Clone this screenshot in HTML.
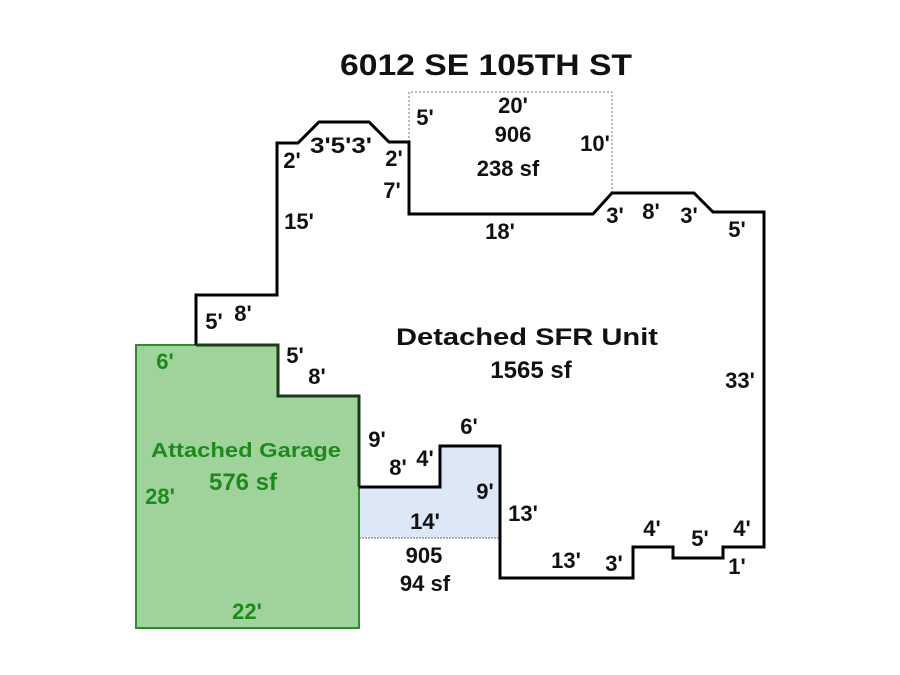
<!DOCTYPE html>
<html><head><meta charset="utf-8"><style>
html,body{margin:0;padding:0;background:#fff;}
svg{display:block}
text{font-family:"Liberation Sans",Arial,sans-serif;font-weight:bold;fill:#111;}
.g{fill:#1e8a1e}
</style></head><body>
<svg width="900" height="675" viewBox="0 0 900 675" xmlns="http://www.w3.org/2000/svg">
<rect width="900" height="675" fill="#fff"/>
<!-- dotted 906 area -->
<polyline points="409,142 409,92 612,92 612,193" fill="none" stroke="#777" stroke-width="1" stroke-dasharray="2,2"/>
<!-- blue 905 -->
<polygon points="359,487 440,487 440,446 500,446 500,538 359,538" fill="#dce8f5"/>
<line x1="359" y1="538" x2="500" y2="538" stroke="#666" stroke-width="1" stroke-dasharray="2,1"/>
<!-- garage -->
<polygon points="136,345 278,345 278,396 359,396 359,628 136,628" fill="#a0d29c" stroke="#2e8b2e" stroke-width="2"/>
<!-- main outline -->
<polyline points="196,345 196,295 277,295 277,143 298,143 319,122 369,122 389,142 409,142 409,214 593,214 612,193 694,193 713,212 764,212 764,547 723,547 723,558 673,558 673,547 633,547 633,578 500,578 500,446 440,446 440,487 359,487" fill="none" stroke="#000" stroke-width="3" stroke-linejoin="miter"/>
<polyline points="196,345 278,345 278,396 359,396 359,487" fill="none" stroke="#1a3a1a" stroke-width="3"/>
<!-- title -->
<text x="486" y="75" font-size="30" text-anchor="middle" textLength="292" lengthAdjust="spacingAndGlyphs">6012 SE 105TH ST</text>
<g font-size="22" text-anchor="middle">
<text x="425" y="125">5'</text>
<text x="513" y="113">20'</text>
<text x="513" y="142">906</text>
<text x="508" y="176">238 sf</text>
<text x="595" y="151">10'</text>
<text x="292" y="168">2'</text>
<text x="341" y="153" textLength="62" lengthAdjust="spacingAndGlyphs">3'5'3'</text>
<text x="394" y="166">2'</text>
<text x="392" y="198">7'</text>
<text x="299" y="229">15'</text>
<text x="500" y="239">18'</text>
<text x="615" y="223">3'</text>
<text x="651" y="219">8'</text>
<text x="689" y="223">3'</text>
<text x="737" y="237">5'</text>
<text x="214" y="329">5'</text>
<text x="243" y="321">8'</text>
<text x="527" y="345" font-size="24" textLength="262" lengthAdjust="spacingAndGlyphs">Detached SFR Unit</text>
<text x="531" y="378" font-size="24">1565 sf</text>
<text x="740" y="388">33'</text>
<text x="295" y="363">5'</text>
<text x="317" y="384">8'</text>
<text x="377" y="447">9'</text>
<text x="469" y="434">6'</text>
<text x="398" y="475">8'</text>
<text x="425" y="466">4'</text>
<text x="485" y="499">9'</text>
<text x="523" y="521">13'</text>
<text x="425" y="529">14'</text>
<text x="424" y="563">905</text>
<text x="425" y="591">94 sf</text>
<text x="566" y="568">13'</text>
<text x="614" y="571">3'</text>
<text x="652" y="536">4'</text>
<text x="700" y="546">5'</text>
<text x="742" y="536">4'</text>
<text x="737" y="574">1'</text>
</g>
<g text-anchor="middle">
<text class="g" x="165" y="369" font-size="22">6'</text>
<text class="g" x="246" y="457" font-size="20" textLength="190" lengthAdjust="spacingAndGlyphs">Attached Garage</text>
<text class="g" x="243" y="490" font-size="24">576 sf</text>
<text class="g" x="160" y="504" font-size="22">28'</text>
<text class="g" x="247" y="619" font-size="22">22'</text>
</g>
</svg>
</body></html>
